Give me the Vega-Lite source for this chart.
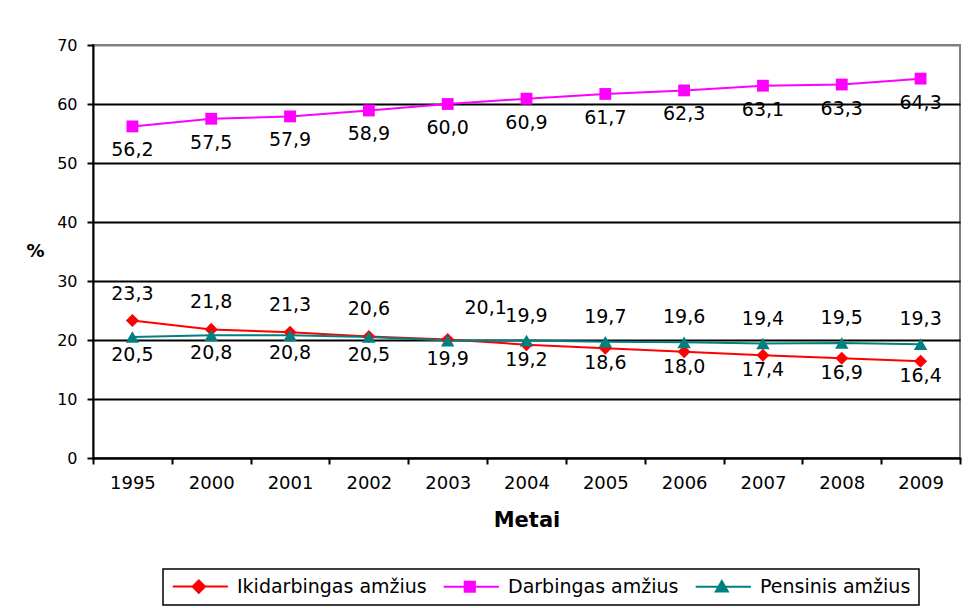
{
  "$schema": "https://vega.github.io/schema/vega-lite/v6.json",
  "width": 867,
  "height": 413,
  "autosize": {"type": "none"},
  "padding": {"left": 93, "top": 45, "right": 18, "bottom": 150},
  "background": "white",
  "data": {
    "values": [
      {"year": 1995, "series": "Ikidarbingas amžius", "value": 23.3},
      {"year": 2000, "series": "Ikidarbingas amžius", "value": 21.8},
      {"year": 2001, "series": "Ikidarbingas amžius", "value": 21.3},
      {"year": 2002, "series": "Ikidarbingas amžius", "value": 20.6},
      {"year": 2003, "series": "Ikidarbingas amžius", "value": 20.1},
      {"year": 2004, "series": "Ikidarbingas amžius", "value": 19.2},
      {"year": 2005, "series": "Ikidarbingas amžius", "value": 18.6},
      {"year": 2006, "series": "Ikidarbingas amžius", "value": 18.0},
      {"year": 2007, "series": "Ikidarbingas amžius", "value": 17.4},
      {"year": 2008, "series": "Ikidarbingas amžius", "value": 16.9},
      {"year": 2009, "series": "Ikidarbingas amžius", "value": 16.4},
      {"year": 1995, "series": "Darbingas amžius", "value": 56.2},
      {"year": 2000, "series": "Darbingas amžius", "value": 57.5},
      {"year": 2001, "series": "Darbingas amžius", "value": 57.9},
      {"year": 2002, "series": "Darbingas amžius", "value": 58.9},
      {"year": 2003, "series": "Darbingas amžius", "value": 60.0},
      {"year": 2004, "series": "Darbingas amžius", "value": 60.9},
      {"year": 2005, "series": "Darbingas amžius", "value": 61.7},
      {"year": 2006, "series": "Darbingas amžius", "value": 62.3},
      {"year": 2007, "series": "Darbingas amžius", "value": 63.1},
      {"year": 2008, "series": "Darbingas amžius", "value": 63.3},
      {"year": 2009, "series": "Darbingas amžius", "value": 64.3},
      {"year": 1995, "series": "Pensinis amžius", "value": 20.5},
      {"year": 2000, "series": "Pensinis amžius", "value": 20.8},
      {"year": 2001, "series": "Pensinis amžius", "value": 20.8},
      {"year": 2002, "series": "Pensinis amžius", "value": 20.5},
      {"year": 2003, "series": "Pensinis amžius", "value": 19.9},
      {"year": 2004, "series": "Pensinis amžius", "value": 19.9},
      {"year": 2005, "series": "Pensinis amžius", "value": 19.7},
      {"year": 2006, "series": "Pensinis amžius", "value": 19.6},
      {"year": 2007, "series": "Pensinis amžius", "value": 19.4},
      {"year": 2008, "series": "Pensinis amžius", "value": 19.5},
      {"year": 2009, "series": "Pensinis amžius", "value": 19.3}
    ]
  },
  "encoding": {
    "x": {
      "field": "year",
      "type": "ordinal",
      "bandPosition": 0.5,
      "scale": {"type": "band", "paddingInner": 0, "paddingOuter": 0},
      "axis": {
        "title": "Metai",
        "titleFont": "DejaVu Sans",
        "titleFontSize": 21,
        "titleFontWeight": "bold",
        "titleColor": "black",
        "titlePadding": 17,
        "labelAngle": 0,
        "labelFont": "DejaVu Sans",
        "labelFontSize": 18,
        "labelColor": "black",
        "labelPadding": 10,
        "tickBand": "extent",
        "tickSize": 6,
        "tickColor": "black",
        "tickWidth": 2,
        "domainColor": "black",
        "domainWidth": 2,
        "grid": false
      }
    },
    "y": {
      "field": "value",
      "type": "quantitative",
      "scale": {"domain": [0, 70], "nice": false},
      "axis": {
        "title": "%",
        "titleAngle": 0,
        "titleX": -58,
        "titleY": 206,
        "titleAlign": "center",
        "titleBaseline": "middle",
        "titleFont": "DejaVu Sans",
        "titleFontSize": 18,
        "titleFontWeight": "bold",
        "titleColor": "black",
        "values": [0, 10, 20, 30, 40, 50, 60, 70],
        "labelFont": "DejaVu Sans",
        "labelFontSize": 16,
        "labelColor": "black",
        "labelPadding": 10,
        "tickSize": 6,
        "tickColor": "black",
        "tickWidth": 2,
        "domainColor": "black",
        "domainWidth": 2,
        "grid": true,
        "gridColor": {"condition": {"test": "datum.value == 70", "value": "#808080"}, "value": "black"},
        "gridWidth": 2,
        "gridOpacity": 1
      }
    }
  },
  "layer": [
    {
      "mark": {"type": "line", "strokeWidth": 2},
      "encoding": {
        "color": {
          "field": "series",
          "type": "nominal",
          "scale": {
            "domain": ["Ikidarbingas amžius", "Darbingas amžius", "Pensinis amžius"],
            "range": ["#FF0000", "#FF00FF", "#008080"]
          },
          "legend": {
            "orient": "none",
            "legendX": 70,
            "legendY": 524,
            "direction": "horizontal",
            "title": null,
            "strokeColor": "black",
            "fillColor": "white",
            "padding": 8,
            "labelFont": "DejaVu Sans",
            "labelFontSize": 19,
            "labelColor": "black",
            "labelLimit": 400,
            "symbolSize": 144,
            "labelOffset": 47,
            "columnPadding": 12,
            "encode": {
              "symbols": {
                "update": {
                  "shape": {"signal": "datum.value === 'Ikidarbingas amžius' ? 'M-1.3,0H7.9M2,0L3.05,-1.05L4.1,0L3.05,1.05Z' : datum.value === 'Darbingas amžius' ? 'M-1.3,0H7.9M2.2,-0.85H3.9V0.85H2.2Z' : 'M-1.3,0H7.9M2.05,0.8L3.05,-0.95L4.05,0.8Z'"},
                  "fill": {"scale": "color", "field": "value"},
                  "stroke": {"scale": "color", "field": "value"},
                  "strokeWidth": {"value": 2},
                  "opacity": {"value": 1},
                  "fillOpacity": {"value": 1}
                }
              }
            }
          }
        }
      }
    },
    {
      "transform": [{"filter": "datum.series === 'Ikidarbingas amžius'"}],
      "mark": {"type": "point", "filled": true, "opacity": 1, "shape": "diamond", "size": 170, "color": "#FF0000"}
    },
    {
      "transform": [{"filter": "datum.series === 'Darbingas amžius'"}],
      "mark": {"type": "point", "filled": true, "opacity": 1, "shape": "square", "size": 140, "color": "#FF00FF"}
    },
    {
      "transform": [{"filter": "datum.series === 'Pensinis amžius'"}],
      "mark": {"type": "point", "filled": true, "opacity": 1, "shape": "triangle-up", "size": 180, "color": "#008080"}
    },
    {
      "transform": [{"filter": "datum.series === 'Darbingas amžius'"}],
      "mark": {"type": "text", "font": "DejaVu Sans", "fontSize": 19, "color": "black", "baseline": "middle", "dy": 24},
      "encoding": {"text": {"field": "value", "type": "quantitative", "format": ".1f"}}
    },
    {
      "transform": [{"filter": "datum.series === 'Ikidarbingas amžius' && datum.year <= 2002"}],
      "mark": {"type": "text", "font": "DejaVu Sans", "fontSize": 19, "color": "black", "baseline": "middle", "dy": -27},
      "encoding": {"text": {"field": "value", "type": "quantitative", "format": ".1f"}}
    },
    {
      "transform": [{"filter": "datum.series === 'Ikidarbingas amžius' && datum.year == 2003"}],
      "mark": {"type": "text", "font": "DejaVu Sans", "fontSize": 19, "color": "black", "baseline": "middle", "dy": -31, "dx": 38},
      "encoding": {"text": {"field": "value", "type": "quantitative", "format": ".1f"}}
    },
    {
      "transform": [{"filter": "datum.series === 'Ikidarbingas amžius' && datum.year >= 2004"}],
      "mark": {"type": "text", "font": "DejaVu Sans", "fontSize": 19, "color": "black", "baseline": "middle", "dy": 15},
      "encoding": {"text": {"field": "value", "type": "quantitative", "format": ".1f"}}
    },
    {
      "transform": [{"filter": "datum.series === 'Pensinis amžius' && datum.year <= 2003"}],
      "mark": {"type": "text", "font": "DejaVu Sans", "fontSize": 19, "color": "black", "baseline": "middle", "dy": 18},
      "encoding": {"text": {"field": "value", "type": "quantitative", "format": ".1f"}}
    },
    {
      "transform": [{"filter": "datum.series === 'Pensinis amžius' && datum.year >= 2004"}],
      "mark": {"type": "text", "font": "DejaVu Sans", "fontSize": 19, "color": "black", "baseline": "middle", "dy": -25},
      "encoding": {"text": {"field": "value", "type": "quantitative", "format": ".1f"}}
    }
  ],
  "config": {
    "locale": {"number": {"decimal": ",", "thousands": " ", "grouping": [3], "currency": ["", " €"]}},
    "view": {"stroke": "#808080", "strokeWidth": 2},
    "legend": {"strokeWidth": 1.5},
    "axis": {"domainCap": "square"}
  }
}
